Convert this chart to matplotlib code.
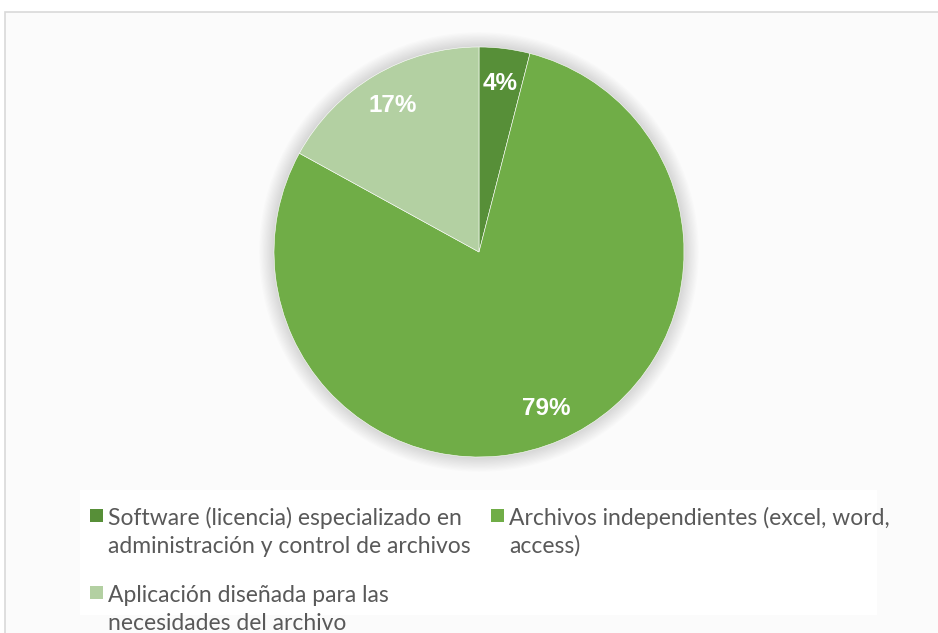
import matplotlib.pyplot as plt
from matplotlib.patches import Rectangle, Circle

# datos del grafico
etiquetas = ['Software (licencia) especializado en\nadministración y control de archivos',
             'Archivos independientes (excel, word,\naccess)',
             'Aplicación diseñada para las\nnecesidades del archivo']
valores = [4, 79, 17]
colores = ['#578F38', '#70AD47', '#B3D0A2']

W, H = 938, 633
fig = plt.figure(figsize=(W / 100, H / 100), dpi=100)
fig.patch.set_facecolor('white')

# marco gris del area del grafico
fig.add_artist(Rectangle((5 / W, -0.05), 1.0, (H - 12) / H + 0.05,
                         transform=fig.transFigure, facecolor='#FBFBFB',
                         edgecolor='#D9D9D9', linewidth=1.2, zorder=-10))
# caja blanca de la leyenda
fig.add_artist(Rectangle((80 / W, (H - 615) / H), 797 / W, 125 / H,
                         transform=fig.transFigure, facecolor='white',
                         edgecolor='none', zorder=-9))

ax = fig.add_axes([274 / W, 176 / H, 410 / W, 410 / H])
# sombra suave alrededor del pastel
for i in range(12):
    ax.add_patch(Circle((0, 0), 1.0 + 0.006 * (i + 1), facecolor='#808080',
                        edgecolor='none', alpha=0.022, zorder=0, clip_on=False))
wedges, textos, pcts = ax.pie(valores, colors=colores, startangle=90, counterclock=False,
                              autopct='%1.0f%%', pctdistance=0.83, radius=1,
                              wedgeprops=dict(edgecolor='white', linewidth=0.4, zorder=2))
for t in pcts:
    t.set_color('white')
    t.set_fontweight('bold')
    t.set_fontsize(17.5)
    t.set_fontfamily('Liberation Sans')
    t.set_zorder(3)
ax.set_xlim(-1, 1)
ax.set_ylim(-1, 1)
ax.set_aspect('equal')
ax.axis('off')

# leyenda hecha a mano, por filas: software, archivos / aplicacion
pos = [(90, 525), (491, 525), (90, 602)]  # x del cuadro, linea base de la primera linea (px)
for (x, y), lab, c in zip(pos, etiquetas, colores):
    fig.add_artist(Rectangle((x / W, (H - y + 3) / H), 13 / W, 13 / H,
                             transform=fig.transFigure, facecolor=c, edgecolor='none'))
    for k, linea in enumerate(lab.split('\n')):
        fig.text((x + 18) / W, (H - y - 28 * k) / H, linea, ha='left', va='baseline',
                 fontfamily='Lato', fontsize=16.5, color='#595959')

fig.savefig('out.png', dpi=100)
